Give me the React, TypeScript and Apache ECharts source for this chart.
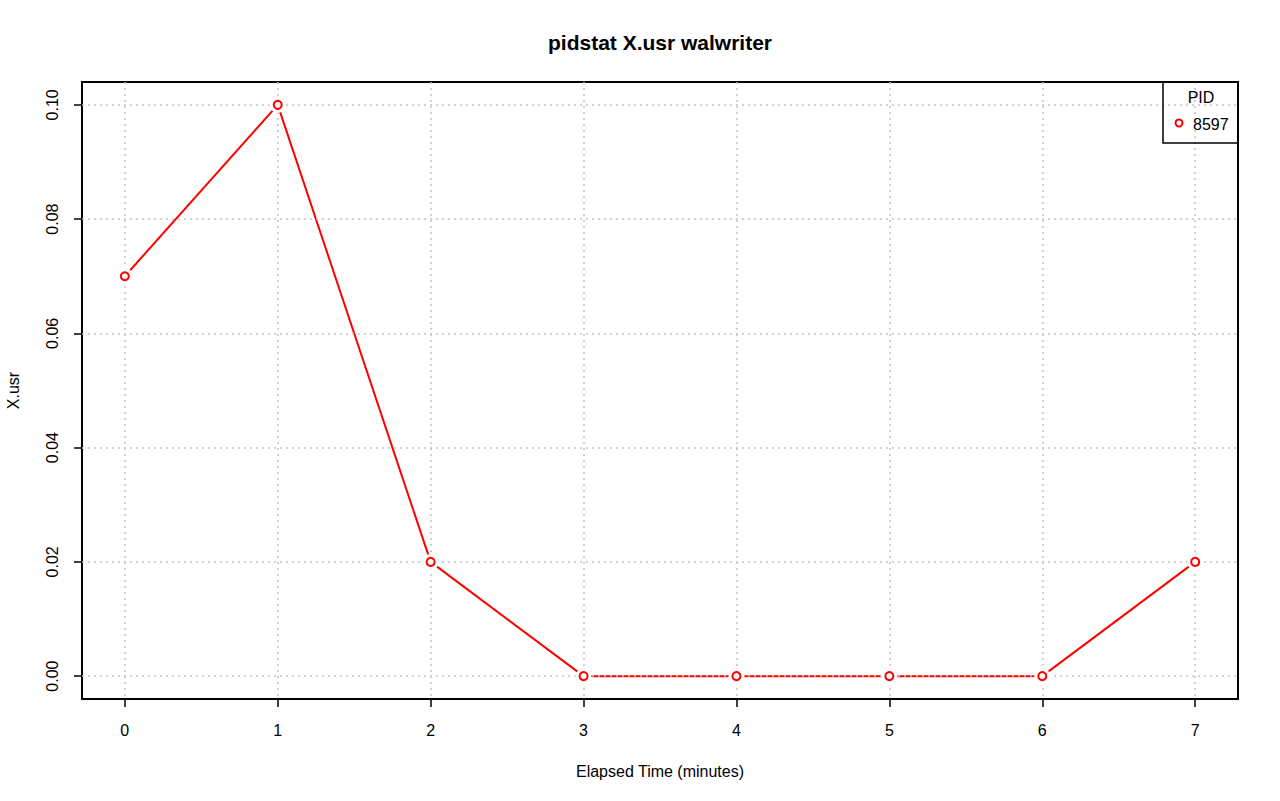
import React, { useEffect, useRef } from "react";
import * as echarts from "echarts";

const xValues = [0, 1, 2, 3, 4, 5, 6, 7];
const usrValues = [0.07, 0.1, 0.02, 0, 0, 0, 0, 0.02];
const xTicks = [0, 1, 2, 3, 4, 5, 6, 7];
const yTicks = [0, 0.02, 0.04, 0.06, 0.08, 0.1];
const legendTitle = "PID";
const seriesName = "8597";

const FONT = "Liberation Sans, Arial, Helvetica, sans-serif";

export default function App() {
  const ref = useRef<HTMLDivElement>(null);
  useEffect(() => {
    if (!ref.current) return;
    const chart = echarts.init(ref.current, null, { renderer: "svg" });
    const pts = xValues.map((x, i) => [x, usrValues[i]]);
    const gridLine = { show: true, lineStyle: { color: "#c4c4c4", type: [2, 4] as any, width: 1.5 } };
    chart.setOption({
      animation: false,
      backgroundColor: "#ffffff",
      textStyle: { fontFamily: FONT },
      title: {
        text: "pidstat X.usr walwriter",
        left: 655,
        textAlign: "center",
        top: 27,
        textStyle: { fontFamily: FONT, fontSize: 21, fontWeight: "bold", color: "#000" },
      },
      grid: {
        left: 82, top: 82, width: 1156, height: 617,
        containLabel: false, outerBoundsMode: "none",
        show: true, borderColor: "#000", borderWidth: 2, backgroundColor: "transparent",
      },
      xAxis: {
        type: "value", min: -0.28, max: 7.28, z: 3,
        name: "Elapsed Time (minutes)", nameLocation: "middle", nameGap: 64,
        nameTextStyle: { fontFamily: FONT, fontSize: 16, color: "#000" },
        axisLine: { show: false, onZero: false },
        axisTick: { show: true, length: 8, customValues: xTicks, lineStyle: { color: "#000", width: 1.5 } },
        axisLabel: { customValues: xTicks, margin: 23, fontFamily: FONT, fontSize: 16, color: "#000" },
        splitLine: gridLine,
      },
      yAxis: {
        type: "value", min: -0.004, max: 0.104, z: 3,
        name: "X.usr", nameLocation: "middle", nameGap: 61,
        nameTextStyle: { fontFamily: FONT, fontSize: 16, color: "#000" },
        axisLine: { show: false, onZero: false },
        axisTick: { show: true, length: 8, customValues: yTicks, lineStyle: { color: "#000", width: 1.5 } },
        axisLabel: {
          customValues: yTicks, margin: 22, rotate: 90, fontFamily: FONT, fontSize: 16, color: "#000",
          formatter: (v: number) => v.toFixed(2),
        },
        splitLine: gridLine,
      },
      series: [
        {
          type: "line", data: pts, symbol: "none", z: 2,
          lineStyle: { color: "#ff0000", width: 2 },
        },
        {
          type: "scatter", data: pts, symbol: "circle", symbolSize: 16, z: 4,
          itemStyle: { color: "#ffffff", opacity: 1 },
          silent: true,
        },
        {
          type: "scatter", data: pts, symbol: "circle", symbolSize: 8, z: 5,
          itemStyle: { color: "#ffffff", borderColor: "#ff0000", borderWidth: 2, opacity: 1 },
        },
      ],
      graphic: [
        { type: "rect", shape: { x: 1163, y: 82, width: 75, height: 61 }, style: { fill: "transparent", stroke: "#000", lineWidth: 1.5 }, z: 10 },
        { type: "text", x: 1201, y: 97, style: { text: legendTitle, fontFamily: FONT, fontSize: 16, fill: "#000", align: "center", verticalAlign: "middle" }, z: 10 },
        { type: "circle", shape: { cx: 1179, cy: 123, r: 3.5 }, style: { fill: "#fff", stroke: "#ff0000", lineWidth: 2 }, z: 10 },
        { type: "text", x: 1193, y: 124, style: { text: seriesName, fontFamily: FONT, fontSize: 16, fill: "#000", align: "left", verticalAlign: "middle" }, z: 10 },
      ],
    });
    return () => chart.dispose();
  }, []);
  return <div ref={ref} style={{ position: "fixed", left: 0, top: 0, width: 1280, height: 801 }} />;
}
